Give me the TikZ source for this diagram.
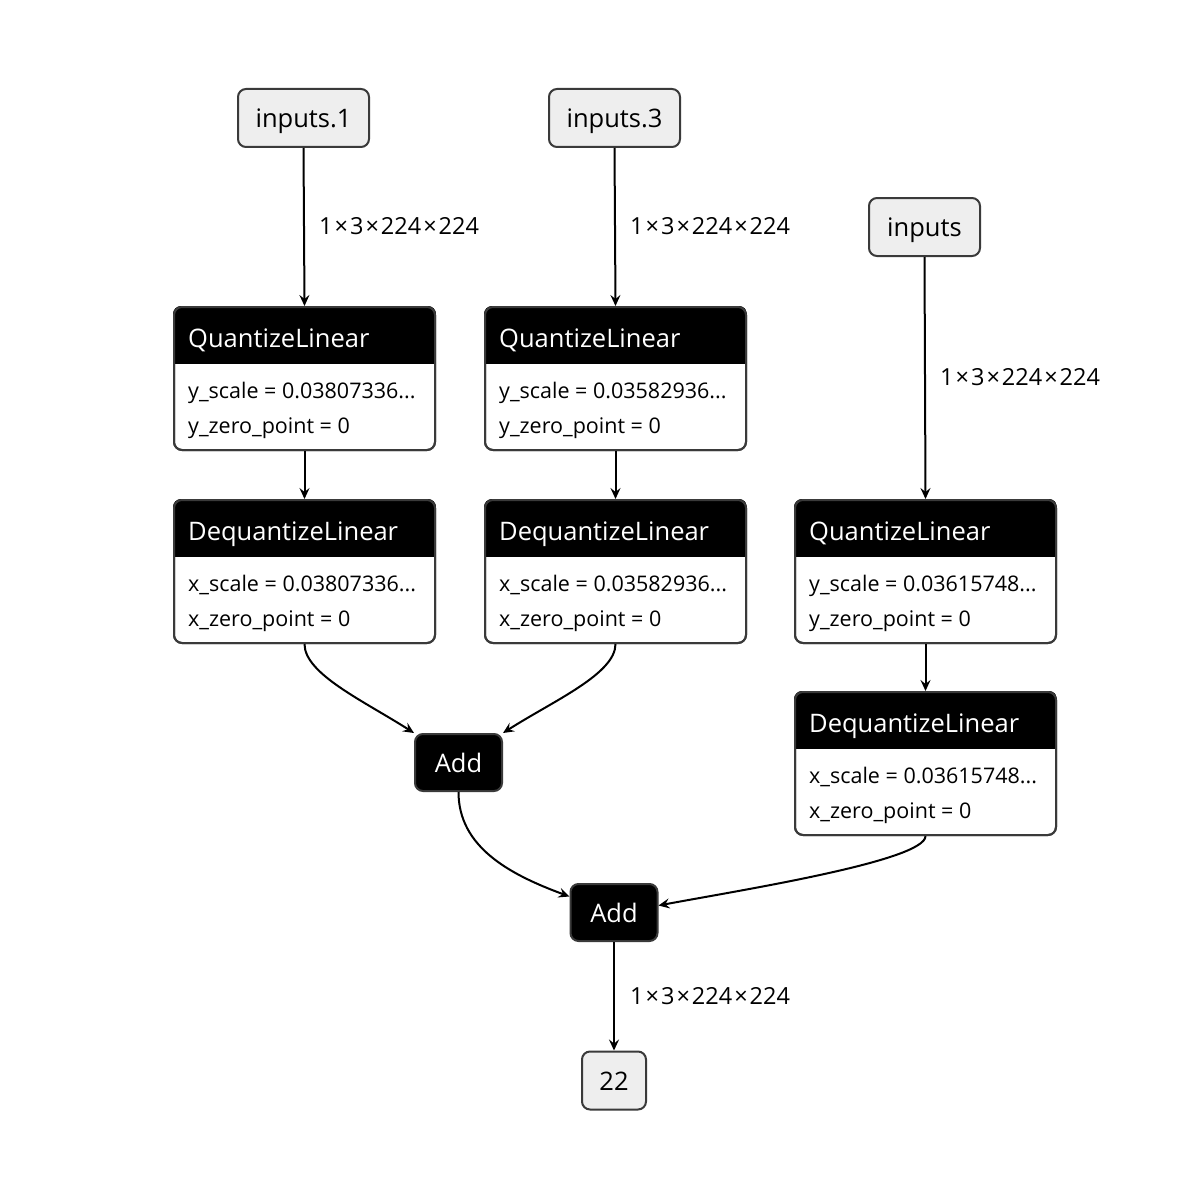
\documentclass[tikz,border=0pt]{standalone}
\usepackage{fontspec}
\setmainfont{Open Sans}
\usetikzlibrary{arrows.meta}
\definecolor{bordergray}{HTML}{3A3A3A}
\definecolor{inputfill}{HTML}{EEEEEE}
\tikzset{
  iobox/.style={draw=bordergray, fill=inputfill, line width=2pt, rounded corners=8pt, inner sep=0pt, minimum height=58pt, text height=19pt, text depth=0pt, font=\fontsize{25.5}{28}\selectfont},
  addbox/.style={draw=bordergray, fill=black, text=white, line width=2pt, rounded corners=8pt, inner sep=0pt, minimum width=87pt, minimum height=57pt, text height=19pt, text depth=0pt, font=\fontsize{25.5}{28}\selectfont},
  opframe/.style={draw=bordergray, line width=2pt, rounded corners=8pt, inner sep=0pt, minimum width=261pt, minimum height=143pt, anchor=north west},
  titletext/.style={anchor=base west, text=white, inner sep=0pt, font=\fontsize{25.5}{28}\selectfont},
  attrtext/.style={anchor=base west, text=black, inner sep=0pt, font=\fontsize{21.5}{24}\selectfont},
  edgelabel/.style={anchor=base west, text=black, inner sep=0pt, font=\fontsize{23.5}{26}\selectfont},
  edge/.style={line width=2pt, -{Stealth[length=11pt, width=10pt, inset=4pt]}},
}
\newcommand\tm{\kern2pt×\kern2pt}
\newcommand\opbox[6]{%
  \node[opframe] (#1) at (#2,#3) {};
  \begin{scope}
    \clip[rounded corners=8pt] (#1.north west) rectangle (#1.south east);
    \fill[black] (#1.north west) rectangle ([yshift=-58pt]#1.north east);
  \end{scope}
  \node[opframe] at (#2,#3) {};
  \node[titletext] (#1t) at (#2+15,#3+41) {#4};
  \node[attrtext] (#1a) at (#2+15,#3+92) {#5};
  \node[attrtext] (#1b) at (#2+15,#3+127) {#6};
}
\begin{document}
\begin{tikzpicture}[x=1pt,y=-1pt]
\useasboundingbox (0,0) rectangle (1182,1177);
\fill[white] (0,0) rectangle (1182,1177);

\node[iobox, minimum width=131pt] (in1) at (303.5,118) {inputs.1};
\node[iobox, minimum width=131pt] (in3) at (614.5,118) {inputs.3};
\node[iobox, minimum width=111pt] (in0) at (924.5,227) {inputs};

\opbox{QL1}{173}{306}{QuantizeLinear}{y\_scale = 0.03807336...}{y\_zero\_point = 0}
\opbox{DQL1}{173}{499}{DequantizeLinear}{x\_scale = 0.03807336...}{x\_zero\_point = 0}
\opbox{QL2}{484}{306}{QuantizeLinear}{y\_scale = 0.03582936...}{y\_zero\_point = 0}
\opbox{DQL2}{484}{499}{DequantizeLinear}{x\_scale = 0.03582936...}{x\_zero\_point = 0}
\opbox{QL3}{794}{499}{QuantizeLinear}{y\_scale = 0.03615748...}{y\_zero\_point = 0}
\opbox{DQL3}{794}{691}{DequantizeLinear}{x\_scale = 0.03615748...}{x\_zero\_point = 0}

\node[addbox] (add1) at (458.5,762.5) {Add};
\node[addbox] (add2) at (614,912.5) {Add};
\node[iobox, minimum width=64pt] (out) at (614,1080.5) {22};

\draw[edge] (in1.south) -- (QL1.north);
\draw[edge] (in3.south) -- (QL2.north);
\draw[edge] (in0.south) -- (QL3.north);
\draw[edge] (QL1.south) -- (DQL1.north);
\draw[edge] (QL2.south) -- (DQL2.north);
\draw[edge] (QL3.south) -- (DQL3.north);
\draw[edge] (DQL1.south) .. controls +(0,30) and +(-50,-32) .. (add1.north west);
\draw[edge] (DQL2.south) .. controls +(0,30) and +(50,-32) .. (add1.north east);
\draw[edge] (add1.south) .. controls +(0,55) and +(-60,-22) .. ([yshift=16pt]add2.west);
\draw[edge] (DQL3.south) .. controls +(0,25) and +(80,-15) .. ([yshift=7pt]add2.east);
\draw[edge] (add2.south) -- (out.north);

\node[edgelabel] (l1) at (319,234) {1\tm3\tm224\tm224};
\node[edgelabel] (l2) at (630,234) {1\tm3\tm224\tm224};
\node[edgelabel] (l3) at (940,385) {1\tm3\tm224\tm224};
\node[edgelabel] (l4) at (630,1004) {1\tm3\tm224\tm224};
\end{tikzpicture}
\end{document}
